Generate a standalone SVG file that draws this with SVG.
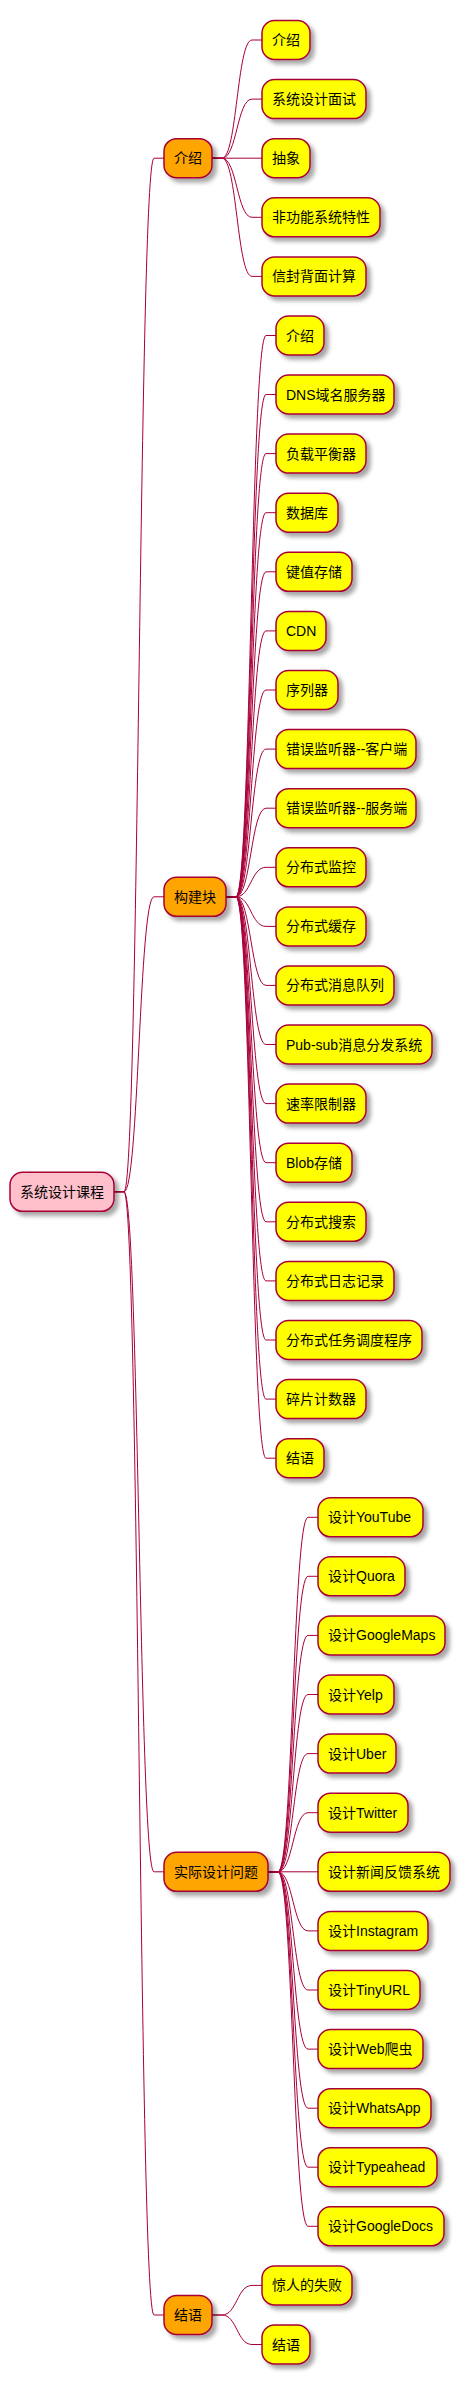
<svg xmlns="http://www.w3.org/2000/svg" width="468" height="2385" viewBox="0 0 468 2385">
<defs>
<filter id="sh" x="-20%" y="-30%" width="150%" height="190%">
<feDropShadow dx="4" dy="4" stdDeviation="2" flood-color="#000" flood-opacity="0.35"/>
</filter>
<style>
rect{stroke:#A80036;stroke-width:1.5;filter:url(#sh)}
.root rect{fill:#FFC0CB}
.l1 rect{fill:#FFA500}
.leaf rect{fill:#FFFF00}
text{font-family:"Liberation Sans","Noto Sans CJK SC",sans-serif;font-size:14px;fill:#000}
#connectors path{fill:none;stroke:#A80036;stroke-width:1}
</style>
</defs>
<rect width="468" height="2385" fill="#FFFFFF" style="stroke:none;filter:none"/>
<g id="connectors">
<path d="M114,1191.8 H124 C139,1191.8 139,158.2 154,158.2 H164"/>
<path d="M114,1191.8 H124 C139,1191.8 139,896.8 154,896.8 H164"/>
<path d="M114,1191.8 H124 C139,1191.8 139,1871.8 154,1871.8 H164"/>
<path d="M114,1191.8 H124 C139,1191.8 139,2315 154,2315 H164"/>
<path d="M212,158.2 H222 C237,158.2 237,40 252,40 H262"/>
<path d="M212,158.2 H222 C237,158.2 237,99.1 252,99.1 H262"/>
<path d="M212,158.2 H262"/>
<path d="M212,158.2 H222 C237,158.2 237,217.3 252,217.3 H262"/>
<path d="M212,158.2 H222 C237,158.2 237,276.4 252,276.4 H262"/>
<path d="M226,896.8 H236 C251,896.8 251,335.5 266,335.5 H276"/>
<path d="M226,896.8 H236 C251,896.8 251,394.5 266,394.5 H276"/>
<path d="M226,896.8 H236 C251,896.8 251,453.6 266,453.6 H276"/>
<path d="M226,896.8 H236 C251,896.8 251,512.7 266,512.7 H276"/>
<path d="M226,896.8 H236 C251,896.8 251,571.8 266,571.8 H276"/>
<path d="M226,896.8 H236 C251,896.8 251,630.9 266,630.9 H276"/>
<path d="M226,896.8 H236 C251,896.8 251,690 266,690 H276"/>
<path d="M226,896.8 H236 C251,896.8 251,749.1 266,749.1 H276"/>
<path d="M226,896.8 H236 C251,896.8 251,808.2 266,808.2 H276"/>
<path d="M226,896.8 H236 C251,896.8 251,867.3 266,867.3 H276"/>
<path d="M226,896.8 H236 C251,896.8 251,926.4 266,926.4 H276"/>
<path d="M226,896.8 H236 C251,896.8 251,985.4 266,985.4 H276"/>
<path d="M226,896.8 H236 C251,896.8 251,1044.5 266,1044.5 H276"/>
<path d="M226,896.8 H236 C251,896.8 251,1103.6 266,1103.6 H276"/>
<path d="M226,896.8 H236 C251,896.8 251,1162.7 266,1162.7 H276"/>
<path d="M226,896.8 H236 C251,896.8 251,1221.8 266,1221.8 H276"/>
<path d="M226,896.8 H236 C251,896.8 251,1280.9 266,1280.9 H276"/>
<path d="M226,896.8 H236 C251,896.8 251,1340 266,1340 H276"/>
<path d="M226,896.8 H236 C251,896.8 251,1399.1 266,1399.1 H276"/>
<path d="M226,896.8 H236 C251,896.8 251,1458.2 266,1458.2 H276"/>
<path d="M268,1871.8 H278 C293,1871.8 293,1517.3 308,1517.3 H318"/>
<path d="M268,1871.8 H278 C293,1871.8 293,1576.3 308,1576.3 H318"/>
<path d="M268,1871.8 H278 C293,1871.8 293,1635.4 308,1635.4 H318"/>
<path d="M268,1871.8 H278 C293,1871.8 293,1694.5 308,1694.5 H318"/>
<path d="M268,1871.8 H278 C293,1871.8 293,1753.6 308,1753.6 H318"/>
<path d="M268,1871.8 H278 C293,1871.8 293,1812.7 308,1812.7 H318"/>
<path d="M268,1871.8 H318"/>
<path d="M268,1871.8 H278 C293,1871.8 293,1930.9 308,1930.9 H318"/>
<path d="M268,1871.8 H278 C293,1871.8 293,1990 308,1990 H318"/>
<path d="M268,1871.8 H278 C293,1871.8 293,2049.1 308,2049.1 H318"/>
<path d="M268,1871.8 H278 C293,1871.8 293,2108.2 308,2108.2 H318"/>
<path d="M268,1871.8 H278 C293,1871.8 293,2167.2 308,2167.2 H318"/>
<path d="M268,1871.8 H278 C293,1871.8 293,2226.3 308,2226.3 H318"/>
<path d="M212,2315 H222 C237,2315 237,2285.4 252,2285.4 H262"/>
<path d="M212,2315 H222 C237,2315 237,2344.5 252,2344.5 H262"/>
</g>
<g id="root" class="root"><rect x="10" y="1172.3" width="104" height="39" rx="12.5"/><text x="20" y="1196.8">系统设计课程</text></g>
<g id="n-intro" class="l1"><rect x="164" y="138.7" width="48" height="39" rx="12.5"/><text x="174" y="163.2">介绍</text></g>
<g id="n-blocks" class="l1"><rect x="164" y="877.3" width="62" height="39" rx="12.5"/><text x="174" y="901.8">构建块</text></g>
<g id="n-problems" class="l1"><rect x="164" y="1852.3" width="104" height="39" rx="12.5"/><text x="174" y="1876.8">实际设计问题</text></g>
<g id="n-end" class="l1"><rect x="164" y="2295.5" width="48" height="39" rx="12.5"/><text x="174" y="2320">结语</text></g>
<g id="a0" class="leaf"><rect x="262" y="20.5" width="48" height="39" rx="12.5"/><text x="272" y="45">介绍</text></g>
<g id="a1" class="leaf"><rect x="262" y="79.6" width="104" height="39" rx="12.5"/><text x="272" y="104.1">系统设计面试</text></g>
<g id="a2" class="leaf"><rect x="262" y="138.7" width="48" height="39" rx="12.5"/><text x="272" y="163.2">抽象</text></g>
<g id="a3" class="leaf"><rect x="262" y="197.8" width="118" height="39" rx="12.5"/><text x="272" y="222.3">非功能系统特性</text></g>
<g id="a4" class="leaf"><rect x="262" y="256.9" width="104" height="39" rx="12.5"/><text x="272" y="281.4">信封背面计算</text></g>
<g id="b0" class="leaf"><rect x="276" y="316" width="48" height="39" rx="12.5"/><text x="286" y="340.5">介绍</text></g>
<g id="b1" class="leaf"><rect x="276" y="375" width="118" height="39" rx="12.5"/><text x="286" y="399.5">DNS域名服务器</text></g>
<g id="b2" class="leaf"><rect x="276" y="434.1" width="90" height="39" rx="12.5"/><text x="286" y="458.6">负载平衡器</text></g>
<g id="b3" class="leaf"><rect x="276" y="493.2" width="62" height="39" rx="12.5"/><text x="286" y="517.7">数据库</text></g>
<g id="b4" class="leaf"><rect x="276" y="552.3" width="76" height="39" rx="12.5"/><text x="286" y="576.8">键值存储</text></g>
<g id="b5" class="leaf"><rect x="276" y="611.4" width="50" height="39" rx="12.5"/><text x="286" y="635.9">CDN</text></g>
<g id="b6" class="leaf"><rect x="276" y="670.5" width="62" height="39" rx="12.5"/><text x="286" y="695">序列器</text></g>
<g id="b7" class="leaf"><rect x="276" y="729.6" width="140" height="39" rx="12.5"/><text x="286" y="754.1">错误监听器--客户端</text></g>
<g id="b8" class="leaf"><rect x="276" y="788.7" width="140" height="39" rx="12.5"/><text x="286" y="813.2">错误监听器--服务端</text></g>
<g id="b9" class="leaf"><rect x="276" y="847.8" width="90" height="39" rx="12.5"/><text x="286" y="872.3">分布式监控</text></g>
<g id="b10" class="leaf"><rect x="276" y="906.9" width="90" height="39" rx="12.5"/><text x="286" y="931.4">分布式缓存</text></g>
<g id="b11" class="leaf"><rect x="276" y="965.9" width="118" height="39" rx="12.5"/><text x="286" y="990.4">分布式消息队列</text></g>
<g id="b12" class="leaf"><rect x="276" y="1025" width="156" height="39" rx="12.5"/><text x="286" y="1049.5">Pub-sub消息分发系统</text></g>
<g id="b13" class="leaf"><rect x="276" y="1084.1" width="90" height="39" rx="12.5"/><text x="286" y="1108.6">速率限制器</text></g>
<g id="b14" class="leaf"><rect x="276" y="1143.2" width="76" height="39" rx="12.5"/><text x="286" y="1167.7">Blob存储</text></g>
<g id="b15" class="leaf"><rect x="276" y="1202.3" width="90" height="39" rx="12.5"/><text x="286" y="1226.8">分布式搜索</text></g>
<g id="b16" class="leaf"><rect x="276" y="1261.4" width="118" height="39" rx="12.5"/><text x="286" y="1285.9">分布式日志记录</text></g>
<g id="b17" class="leaf"><rect x="276" y="1320.5" width="146" height="39" rx="12.5"/><text x="286" y="1345">分布式任务调度程序</text></g>
<g id="b18" class="leaf"><rect x="276" y="1379.6" width="90" height="39" rx="12.5"/><text x="286" y="1404.1">碎片计数器</text></g>
<g id="b19" class="leaf"><rect x="276" y="1438.7" width="48" height="39" rx="12.5"/><text x="286" y="1463.2">结语</text></g>
<g id="c0" class="leaf"><rect x="318" y="1497.8" width="105" height="39" rx="12.5"/><text x="328" y="1522.3">设计YouTube</text></g>
<g id="c1" class="leaf"><rect x="318" y="1556.8" width="87" height="39" rx="12.5"/><text x="328" y="1581.3">设计Quora</text></g>
<g id="c2" class="leaf"><rect x="318" y="1615.9" width="127" height="39" rx="12.5"/><text x="328" y="1640.4">设计GoogleMaps</text></g>
<g id="c3" class="leaf"><rect x="318" y="1675" width="76" height="39" rx="12.5"/><text x="328" y="1699.5">设计Yelp</text></g>
<g id="c4" class="leaf"><rect x="318" y="1734.1" width="78" height="39" rx="12.5"/><text x="328" y="1758.6">设计Uber</text></g>
<g id="c5" class="leaf"><rect x="318" y="1793.2" width="90" height="39" rx="12.5"/><text x="328" y="1817.7">设计Twitter</text></g>
<g id="c6" class="leaf"><rect x="318" y="1852.3" width="132" height="39" rx="12.5"/><text x="328" y="1876.8">设计新闻反馈系统</text></g>
<g id="c7" class="leaf"><rect x="318" y="1911.4" width="110" height="39" rx="12.5"/><text x="328" y="1935.9">设计Instagram</text></g>
<g id="c8" class="leaf"><rect x="318" y="1970.5" width="102" height="39" rx="12.5"/><text x="328" y="1995">设计TinyURL</text></g>
<g id="c9" class="leaf"><rect x="318" y="2029.6" width="105" height="39" rx="12.5"/><text x="328" y="2054.1">设计Web爬虫</text></g>
<g id="c10" class="leaf"><rect x="318" y="2088.7" width="113" height="39" rx="12.5"/><text x="328" y="2113.2">设计WhatsApp</text></g>
<g id="c11" class="leaf"><rect x="318" y="2147.7" width="119" height="39" rx="12.5"/><text x="328" y="2172.2">设计Typeahead</text></g>
<g id="c12" class="leaf"><rect x="318" y="2206.8" width="126" height="39" rx="12.5"/><text x="328" y="2231.3">设计GoogleDocs</text></g>
<g id="d0" class="leaf"><rect x="262" y="2265.9" width="90" height="39" rx="12.5"/><text x="272" y="2290.4">惊人的失败</text></g>
<g id="d1" class="leaf"><rect x="262" y="2325" width="48" height="39" rx="12.5"/><text x="272" y="2349.5">结语</text></g>
</svg>
